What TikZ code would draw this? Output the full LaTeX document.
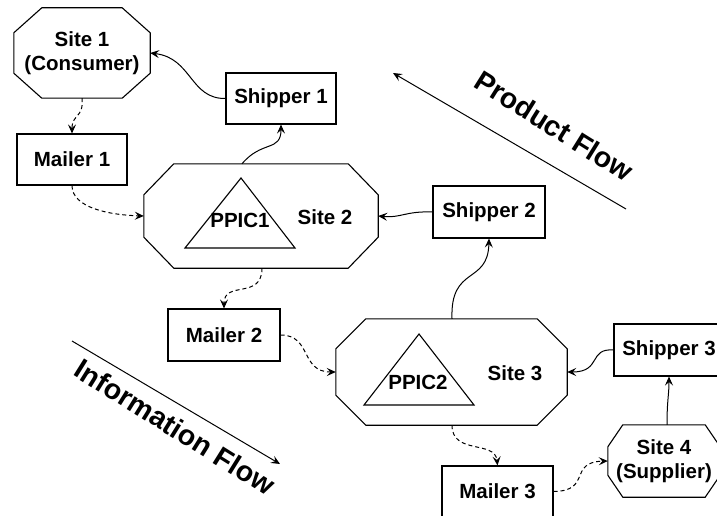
\documentclass[tikz,border=0pt]{standalone}
\usepackage{fontspec}
\setmainfont{Liberation Sans}
\usetikzlibrary{arrows.meta}
\newcommand\octo[3]{%
  \draw[line width=1.1pt] ([xshift=#2]#1.north west) -- ([xshift=-#2]#1.north east) -- ([yshift=-#3]#1.north east) -- ([yshift=#3]#1.south east) -- ([xshift=-#2]#1.south east) -- ([xshift=#2]#1.south west) -- ([yshift=#3]#1.south west) -- ([yshift=-#3]#1.north west) -- cycle;}
\begin{document}
\begin{tikzpicture}[x=1pt,y=-1pt,
  font=\fontsize{20.5}{24}\selectfont\bfseries,
  box/.style={draw,line width=1.1pt,minimum width=110pt,minimum height=51pt,inner sep=0pt},
  site/.style={inner sep=0pt,align=center},
  txt/.style={inner sep=0pt},
  flowtxt/.style={inner sep=0pt,font=\fontsize{28.5}{32}\selectfont\bfseries},
  tip/.style={-{Stealth[length=9pt,width=8pt,inset=3.5pt]}},
  prod/.style={tip,line width=1pt},
  info/.style={tip,line width=1pt,dash pattern=on 4pt off 3pt},
]
\clip (0,0) rectangle (717,516);
% sites
\node[site,minimum width=136pt,minimum height=90pt] (site1) at (82,53) {Site 1\\(Consumer)};
\octo{site1}{28pt}{25pt}
\node[site,minimum width=234pt,minimum height=104pt] (site2) at (261,216) {};
\octo{site2}{30pt}{31pt}
\node[site,minimum width=231pt,minimum height=106pt] (site3) at (451.5,372) {};
\octo{site3}{30pt}{30pt}
\node[site,minimum width=112pt,minimum height=72pt] (site4) at (664,461) {Site 4\\(Supplier)};
\octo{site4}{15pt}{22pt}
% site labels and PPIC triangles
\node[txt] (s2lab) at (325,217) {Site 2};
\node[txt] (s3lab) at (515,373) {Site 3};
\draw[line width=1.1pt] (241,178) -- (295,248) -- (185,248) -- cycle;
\node[txt] (ppic1) at (240,220) {PPIC1};
\draw[line width=1.1pt] (419,334) -- (474,405) -- (364,405) -- cycle;
\node[txt] (ppic2) at (418,382) {PPIC2};
% boxes
\node[box] (ship1) at (281,98.5) {Shipper 1};
\node[box] (mail1) at (72,159.5) {Mailer 1};
\node[box,minimum width=112pt,minimum height=52pt] (ship2) at (489,212) {Shipper 2};
\node[box,minimum width=112pt,minimum height=52pt] (mail2) at (224,335) {Mailer 2};
\node[box,minimum height=52pt] (ship3) at (669,350) {Shipper 3};
\node[box,minimum width=111pt] (mail3) at (497.5,491.5) {Mailer 3};
% product connectors
\draw[prod] (ship1.west) .. controls (190,99) and (192,58) .. (site1.east);
\draw[prod] ([xshift=-19pt]site2.north) .. controls (262,140) and (281,152) .. (ship1.south);
\draw[prod] (ship2.west) .. controls (405,211) and (402,218) .. (site2.east);
\draw[prod] ([xshift=0.5pt]site3.north) .. controls (450,265) and (488,285) .. (ship2.south);
\draw[prod] (ship3.west) .. controls (588,348) and (602,372) .. (site3.east);
\draw[prod] ([xshift=3pt]site4.north) .. controls (667,400) and (669,395) .. (ship3.south);
% information connectors
\draw[info] (site1.south) .. controls (84,118) and (72,114) .. (mail1.north);
\draw[info] (mail1.south) .. controls (72,208) and (110,215) .. (site2.west);
\draw[info] ([xshift=1pt]site2.south) .. controls (262,300) and (224,280) .. (mail2.north);
\draw[info] (mail2.east) .. controls (312,335) and (300,372) .. (site3.west);
\draw[info] ([xshift=0.5pt]site3.south) .. controls (452,455) and (495,440) .. (mail3.north);
\draw[info] (mail3.east) .. controls (592,491) and (568,462) .. (site4.west);
% flow arrows
\coordinate (pfa) at (626,209);
\coordinate (pfb) at (393,73);
\draw[tip,line width=1pt] (pfa) -- (pfb);
\node[flowtxt,rotate=-32] (pflab) at (554,126) {Product Flow};
\coordinate (ifa) at (72,341);
\coordinate (ifb) at (280,464);
\draw[tip,line width=1pt] (ifa) -- (ifb);
\node[flowtxt,rotate=-32] (iflab) at (175,427) {Information Flow};
\end{tikzpicture}
\end{document}
